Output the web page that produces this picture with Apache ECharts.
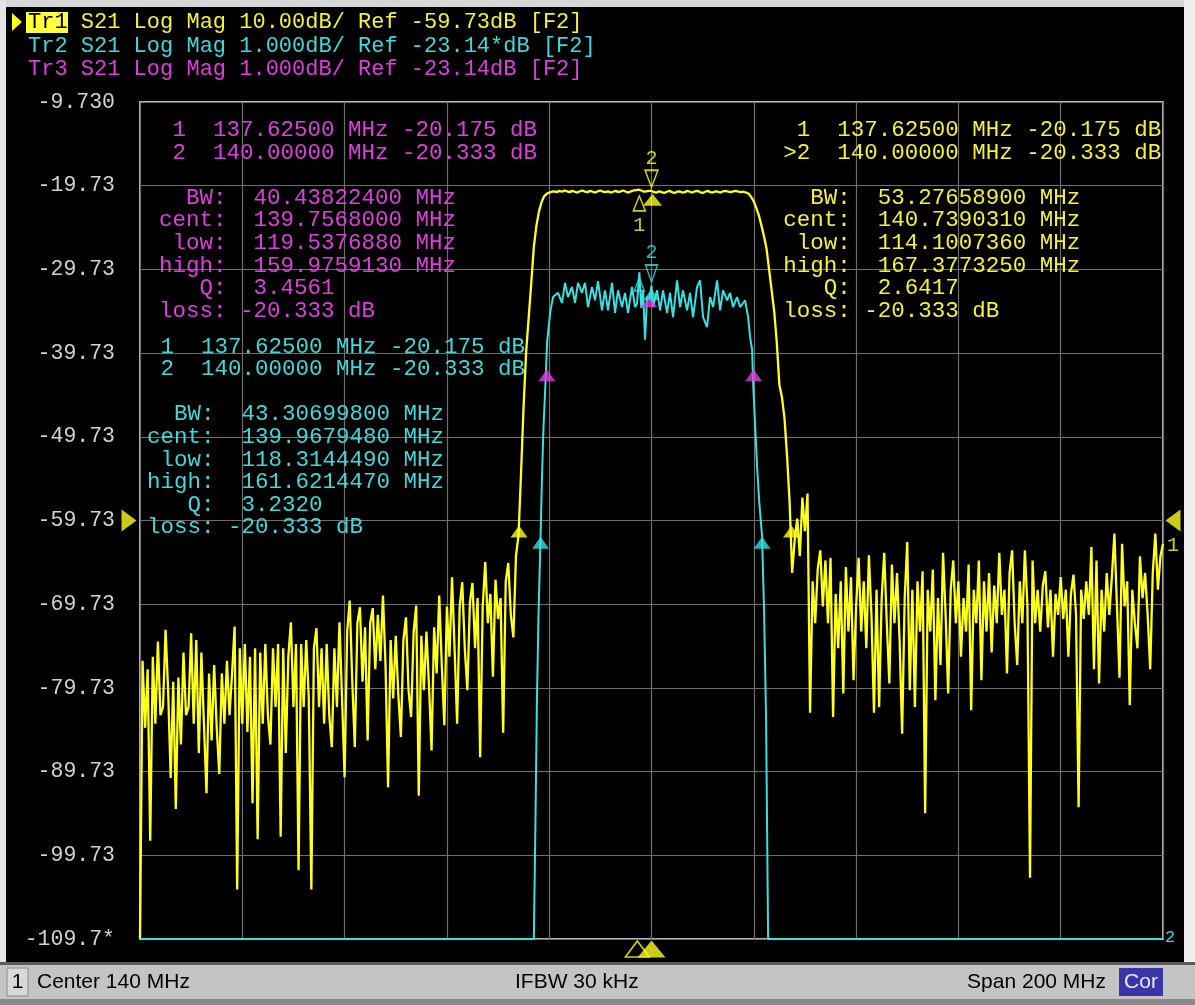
<!DOCTYPE html>
<html><head><meta charset="utf-8">
<script src="https://cdn.jsdelivr.net/npm/echarts@6/dist/echarts.min.js"></script>
<style>html,body{margin:0;padding:0;background:#000;}#c{width:1195px;height:1005px;}</style>
</head><body><div id="c"></div>
<script>
// ---------------- DATA ----------------
// Stimulus: Center 140 MHz, Span 200 MHz (40..240 MHz); Tr1 read every 0.5 MHz
const sweepStartMHz = 40;
const sweepStopMHz = 240;
const sweepStepMHz = 0.5;

// Tr1 axis (10 dB/div, Ref -59.73 dB at 5th division)
const yTickValues = [-109.73, -99.73, -89.73, -79.73, -69.73, -59.73, -49.73, -39.73, -29.73, -19.73, -9.73];
const yTickLabels = ['-109.7*', '-99.73', '-89.73', '-79.73', '-69.73', '-59.73', '-49.73', '-39.73', '-29.73', '-19.73', '-9.730'];
// Tr2/Tr3 axis (1 dB/div, Ref -23.14 dB at same position)
const tr2AxisMin = -28.14;
const tr2AxisMax = -18.14;

// Tr1 S21 (dB), 40.0 .. 113.0 MHz
const tr1LowerStopband = [
 -109.7,-76.5,-84.5,-77.5,-98.0,-76.0,-84.0,-74.2,-83.0,-82.0,
 -72.8,-80.0,-90.5,-79.0,-94.2,-78.5,-86.5,-75.5,-83.0,-82.0,
 -73.2,-84.0,-74.0,-87.5,-75.5,-84.0,-92.3,-78.0,-86.0,-77.0,
 -84.5,-90.0,-78.0,-84.0,-76.5,-83.0,-78.0,-72.4,-103.8,-75.0,
 -84.0,-74.5,-85.0,-76.0,-93.5,-75.0,-97.8,-75.5,-84.0,-74.5,
 -83.0,-86.5,-75.0,-82.0,-74.5,-97.5,-75.0,-87.5,-76.0,-71.9,
 -82.0,-74.5,-101.5,-74.5,-82.0,-74.0,-81.0,-103.8,-75.0,-72.6,
 -82.0,-75.0,-84.0,-74.5,-83.0,-86.8,-75.0,-82.0,-71.9,-81.0,
 -90.4,-73.0,-69.3,-79.0,-86.8,-72.0,-70.1,-79.0,-72.5,-86.0,
 -72.0,-70.2,-77.5,-71.0,-76.5,-68.7,-77.0,-91.6,-74.0,-81.0,
 -73.5,-80.5,-85.6,-74.0,-71.3,-80.0,-83.2,-73.0,-69.9,-92.6,
 -73.5,-80.0,-73.0,-79.5,-87.2,-72.5,-78.0,-68.7,-77.0,-84.2,
 -70.0,-76.0,-66.5,-75.0,-84.0,-70.0,-67.1,-75.0,-80.0,-69.5,
 -67.2,-75.0,-69.0,-88.0,-70.0,-64.7,-72.0,-68.5,-78.4,-66.8,
 -71.5,-69.0,-85.1,-67.0,-64.8,-71.0,-73.7
];
// Tr1 S21 (dB), 113.5 .. 167.5 MHz
const tr1Passband = [
 -64.0,-61.5,-54.0,-46.0,-39.5,-35.4,-31.3,-27.0,-24.5,-22.8,
 -21.7,-21.0,-20.7,-20.55,-20.45,-20.4,-20.5,-20.35,-20.45,-20.3,
 -20.4,-20.5,-20.35,-20.45,-20.55,-20.4,-20.3,-20.45,-20.5,-20.35,
 -20.45,-20.55,-20.4,-20.3,-20.45,-20.5,-20.4,-20.55,-20.45,-20.35,
 -20.5,-20.4,-20.3,-20.45,-20.55,-20.4,-20.3,-20.25,-20.2,-20.3,
 -20.45,-20.4,-20.35,-20.33,-20.5,-20.55,-20.4,-20.5,-20.6,-20.45,
 -20.35,-20.5,-20.6,-20.45,-20.4,-20.55,-20.5,-20.35,-20.45,-20.55,
 -20.4,-20.35,-20.5,-20.6,-20.45,-20.35,-20.5,-20.55,-20.4,-20.45,
 -20.55,-20.4,-20.35,-20.45,-20.5,-20.4,-20.35,-20.45,-20.5,-20.45,
 -20.55,-20.7,-21.1,-21.6,-22.4,-23.3,-24.5,-25.8,-27.3,-29.8,
 -32.3,-34.8,-38.5,-43.5,-45.0,-47.5,-52.0,-57.5,-66.0
];
// Tr1 S21 (dB), 168.0 .. 240.0 MHz
const tr1UpperStopband = [
 -62.0,-59.5,-64.0,-57.0,-61.0,-56.5,-82.7,-67.0,-72.0,-65.5,
 -63.3,-70.0,-64.5,-72.0,-64.2,-83.2,-68.5,-75.0,-67.0,-80.4,
 -65.3,-73.0,-66.5,-78.8,-70.0,-64.2,-73.0,-67.0,-75.0,-63.9,
 -71.0,-82.7,-68.0,-82.0,-69.0,-63.6,-72.0,-79.2,-65.0,-72.0,
 -66.0,-74.0,-85.2,-69.0,-62.3,-80.0,-68.0,-82.0,-67.0,-73.0,
 -65.8,-94.7,-68.0,-73.0,-65.6,-81.2,-69.0,-77.0,-63.6,-71.0,
 -80.4,-68.0,-64.5,-72.0,-67.0,-76.0,-69.0,-73.0,-65.0,-82.4,
 -68.0,-72.0,-64.5,-78.8,-67.0,-73.0,-66.0,-75.5,-67.5,-72.0,
 -63.6,-71.0,-68.0,-78.0,-66.0,-63.3,-72.0,-77.0,-67.0,-72.0,
 -63.3,-70.0,-102.4,-64.5,-72.0,-68.0,-73.0,-67.5,-65.8,-72.5,
 -68.0,-76.0,-68.5,-71.0,-66.5,-71.5,-68.0,-76.0,-68.5,-66.2,
 -71.0,-94.0,-68.0,-71.5,-67.0,-71.0,-62.9,-77.5,-64.5,-79.2,
 -68.0,-73.0,-66.0,-71.0,-66.5,-61.3,-70.0,-78.5,-62.5,-70.0,
 -67.0,-81.8,-68.0,-72.0,-75.0,-64.0,-69.0,-66.0,-71.0,-77.5,
 -66.0,-61.3,-68.0,-64.0,-62.5
];

// Tr2 S21 (dB, 1 dB/div scale; values shown at the screen floor are clamped to -28.14)
const tr2FreqMHz = [
 40,117.0,117.3,117.6,117.9,118.31,118.6,118.9,119.2,119.6,
 120.2,120.75,121.72,122.5,123.09,123.67,124.46,125.04,125.63,126.41,
 127.0,127.59,128.37,128.96,129.54,130.32,130.91,131.5,132.28,132.87,
 133.45,134.24,134.82,135.41,136.19,136.78,137.17,137.625,138.0,138.35,
 138.74,139.13,139.6,140.0,140.3,141.08,141.67,142.26,143.04,143.62,
 144.21,145.0,145.58,146.16,146.95,147.54,148.12,148.91,149.49,150.08,
 150.86,151.45,152.04,152.82,153.41,153.99,154.78,155.36,155.94,156.73,
 157.32,158.3,158.89,159.28,159.67,159.87,160.26,160.65,161.04,161.62,
 162.0,162.4,162.8,240
];
const tr2Db = [
 -28.14,-28.14,-26.8,-25.3,-24.3,-23.33,-22.6,-22.0,-21.6,-21.0,
 -20.65,-20.47,-20.42,-20.54,-20.30,-20.47,-20.35,-20.54,-20.30,-20.42,
 -20.30,-20.59,-20.35,-20.51,-20.28,-20.63,-20.39,-20.63,-20.30,-20.66,
 -20.39,-20.59,-20.42,-20.66,-20.35,-20.59,-20.55,-20.175,-20.6,-20.39,
 -20.98,-20.47,-20.5,-20.333,-20.59,-20.39,-20.63,-20.39,-20.66,-20.42,
 -20.71,-20.27,-20.59,-20.39,-20.63,-20.42,-20.71,-20.35,-20.27,-20.71,
 -20.83,-20.47,-20.59,-20.27,-20.63,-20.39,-20.51,-20.42,-20.59,-20.47,
 -20.59,-20.51,-20.71,-20.95,-21.10,-21.50,-22.0,-22.5,-22.9,-23.33,
 -24.2,-25.5,-28.14,-28.14
];

// Markers
const markerFreqMHz = [137.625, 140.0];
const tr1MarkerDb = [-20.175, -20.333];
const tr2MarkerDb = [-20.175, -20.333];
const tr1BwEdgesMHz = [114.100736, 167.377325];
const tr1BwLevelDb = -60.333;
const tr2BwEdgesMHz = [118.314449, 161.621447];
const tr2BwLevelDb = -23.333;
const tr3BwEdgesMHz = [119.537688, 159.975913];
const tr3BwLevelDb = -21.333;
const tr1RefLevelDb = -59.73;

// ---------------- BUILD ----------------
const tr1Values = tr1LowerStopband.concat(tr1Passband, tr1UpperStopband);
const tr1Data = tr1Values.map((v, i) => [sweepStartMHz + i * sweepStepMHz, v]);
const tr2Data = tr2FreqMHz.map((f, i) => [f, tr2Db[i]]);

const YEL = '#ffff1e', YEL_T = '#f4f03c';
const CYA = '#38e0e0', CYA_T = '#40d8d8';
const MAG = '#e03ce0', MAG_T = '#dc40dc';
const MONO = '"Liberation Mono", "DejaVu Sans Mono", monospace';

function mk(cfg) {
  return {
    type: 'scatter', silent: true, animation: false, clip: false, z: cfg.z || 6,
    xAxisIndex: 0, yAxisIndex: cfg.axis || 0,
    symbol: 'triangle', symbolSize: cfg.size, symbolRotate: cfg.rotate || 0,
    symbolOffset: cfg.offset || [0, 0],
    itemStyle: cfg.filled ? { color: cfg.color, borderWidth: 0 }
                          : { color: 'rgba(0,0,0,0)', borderColor: cfg.color, borderWidth: 1.6 },
    label: cfg.label ? { show: true, formatter: cfg.label, position: cfg.labelPos, distance: cfg.labelDist || 2,
                         color: cfg.color, fontFamily: MONO, fontSize: 20 } : { show: false },
    emphasis: { disabled: true },
    data: cfg.data
  };
}

function txt(x, y, text, color, font, extra) {
  return Object.assign({ type: 'text', x: x, y: y, silent: true, z: 3,
    style: Object.assign({ text: text, fill: color, font: font, textVerticalAlign: 'middle' }, extra || {}) });
}

const hdrFont = '22px ' + MONO;
const tblFont = '22.5px ' + MONO;
const barFont = '21px "Liberation Sans"';
const tblLH = 22.6;

const magBlock = ' 1  137.62500 MHz -20.175 dB\n 2  140.00000 MHz -20.333 dB\n\n  BW:  40.43822400 MHz\ncent:  139.7568000 MHz\n low:  119.5376880 MHz\nhigh:  159.9759130 MHz\n   Q:  3.4561\nloss: -20.333 dB';
const cyaBlock = ' 1  137.62500 MHz -20.175 dB\n 2  140.00000 MHz -20.333 dB\n\n  BW:  43.30699800 MHz\ncent:  139.9679480 MHz\n low:  118.3144490 MHz\nhigh:  161.6214470 MHz\n   Q:  3.2320\nloss: -20.333 dB';
const yelBlock = ' 1  137.62500 MHz -20.175 dB\n>2  140.00000 MHz -20.333 dB\n\n  BW:  53.27658900 MHz\ncent:  140.7390310 MHz\n low:  114.1007360 MHz\nhigh:  167.3773250 MHz\n   Q:  2.6417\nloss: -20.333 dB';

const chart = echarts.init(document.getElementById('c'), null, { renderer: 'canvas' });
chart.setOption({
  backgroundColor: '#000',
  animation: false,
  grid: { left: 140, top: 102, width: 1023, height: 837, show: true, borderColor: '#b4b4b4', borderWidth: 2,
          backgroundColor: 'transparent', containLabel: false, outerBoundsMode: 'none' },
  xAxis: {
    type: 'value', min: sweepStartMHz, max: sweepStopMHz, interval: 20,
    axisLine: { show: false }, axisTick: { show: false }, axisLabel: { show: false },
    splitLine: { show: true, lineStyle: { color: '#6e6e6e', width: 1.2 } }
  },
  yAxis: [{
    type: 'value', min: yTickValues[0], max: yTickValues[yTickValues.length - 1], interval: 10,
    axisLine: { show: false }, axisTick: { show: false },
    axisLabel: {
      show: true, margin: 25, color: '#d2d2d2', fontFamily: MONO, fontSize: 21.5,
      formatter: function (v) {
        let best = 0;
        for (let i = 1; i < yTickValues.length; i++) if (Math.abs(yTickValues[i] - v) < Math.abs(yTickValues[best] - v)) best = i;
        return yTickLabels[best];
      }
    },
    splitLine: { show: true, lineStyle: { color: '#6e6e6e', width: 1.2 } }
  }, {
    type: 'value', min: tr2AxisMin, max: tr2AxisMax, show: false,
    splitLine: { show: false }
  }],
  series: [
    { type: 'line', name: 'Tr1', data: tr1Data, xAxisIndex: 0, yAxisIndex: 0, showSymbol: false, symbol: 'none',
      clip: false, silent: true, z: 4, lineStyle: { color: YEL, width: 2.3, join: 'bevel' }, animation: false },
    { type: 'line', name: 'Tr2', data: tr2Data, xAxisIndex: 0, yAxisIndex: 1, showSymbol: false, symbol: 'none',
      clip: false, silent: true, z: 5, lineStyle: { color: CYA, width: 2 }, animation: false },

    // Tr1 markers
    mk({ data: [[markerFreqMHz[1], tr1MarkerDb[1]]], color: YEL, size: [13, 17], rotate: 180, offset: [0, -12], label: '2', labelPos: 'top', labelDist: 1 }),
    mk({ data: [[markerFreqMHz[0], tr1MarkerDb[0]]], color: YEL, size: [12, 15], offset: [0, 14], label: '1', labelPos: 'bottom', labelDist: 4 }),
    mk({ data: [[markerFreqMHz[1], tr1MarkerDb[1]]], color: YEL, size: [19, 12], offset: [1, 9], filled: true, z: 7 }),
    // Tr2 markers
    mk({ axis: 1, data: [[markerFreqMHz[1], tr2MarkerDb[1]]], color: CYA, size: [12, 17], rotate: 180, offset: [0, -12], label: '2', labelPos: 'top', labelDist: 1 }),
    mk({ axis: 1, data: [[markerFreqMHz[0], tr2MarkerDb[0]]], color: CYA, size: [10, 13], offset: [0, 12] }),
    mk({ axis: 1, data: [[markerFreqMHz[1], tr2MarkerDb[1]]], color: CYA, size: [16, 11], offset: [0, 9], filled: true, z: 7 }),
    mk({ axis: 1, data: [[markerFreqMHz[1], tr2MarkerDb[1]]], color: MAG, size: [16, 9], offset: [-2, 17], filled: true, z: 7 }),
    // Bandwidth markers
    mk({ data: tr1BwEdgesMHz.map(f => [f, tr1BwLevelDb]), color: YEL, size: [17, 12], offset: [0, 6], filled: true, z: 7 }),
    mk({ axis: 1, data: tr2BwEdgesMHz.map(f => [f, tr2BwLevelDb]), color: CYA, size: [17, 12], offset: [0, 6], filled: true, z: 7 }),
    mk({ axis: 1, data: tr3BwEdgesMHz.map(f => [f, tr3BwLevelDb]), color: MAG, size: [17, 12], offset: [0, 6], filled: true, z: 7 }),
    // Stimulus markers under the x axis
    mk({ data: [[markerFreqMHz[0], yTickValues[0]]], color: YEL, size: [24, 16], offset: [-2, 10] }),
    mk({ data: [[markerFreqMHz[1], yTickValues[0]]], color: YEL, size: [28, 17], offset: [0, 10], filled: true, z: 7 }),
    // Reference level arrows
    mk({ data: [[sweepStartMHz, tr1RefLevelDb]], color: YEL, size: [22, 15], rotate: -90, offset: [-11, 0], filled: true }),
    mk({ data: [[sweepStopMHz, tr1RefLevelDb]], color: YEL, size: [22, 15], rotate: 90, offset: [10, 0], filled: true,
         label: '1', labelPos: 'bottom', labelDist: 4 })
  ],
  graphic: [
    // window frame
    { type: 'rect', silent: true, z: 1, shape: { x: 0, y: 0, width: 1195, height: 7 }, style: { fill: '#d6d6d6' } },
    { type: 'rect', silent: true, z: 1, shape: { x: 0, y: 0, width: 6, height: 962 }, style: { fill: '#e4e4e4' } },
    { type: 'rect', silent: true, z: 1, shape: { x: 1184, y: 0, width: 11, height: 962 }, style: { fill: '#eeeeee' } },
    // status bar
    { type: 'rect', silent: true, z: 1, shape: { x: 0, y: 962, width: 1195, height: 43 }, style: { fill: '#c4c4c4' } },
    { type: 'rect', silent: true, z: 1, shape: { x: 0, y: 962, width: 1195, height: 3 }, style: { fill: '#5a5a5a' } },
    { type: 'rect', silent: true, z: 1, shape: { x: 0, y: 999, width: 1195, height: 6 }, style: { fill: '#8a8a8a' } },
    { type: 'rect', silent: true, z: 2, shape: { x: 7, y: 968, width: 21, height: 28 }, style: { fill: '#d8d8d8', stroke: '#8a8a8a', lineWidth: 1 } },
    txt(17.5, 982, '1', '#000', barFont, { textAlign: 'center' }),
    txt(37, 982, 'Center 140 MHz', '#000', barFont),
    txt(515, 982, 'IFBW 30 kHz', '#000', barFont),
    txt(1106, 982, 'Span 200 MHz', '#000', barFont, { textAlign: 'right' }),
    { type: 'rect', silent: true, z: 2, shape: { x: 1119, y: 968, width: 44, height: 28 }, style: { fill: '#3a36a8' } },
    txt(1141, 982, 'Cor', '#e8e8ff', barFont, { textAlign: 'center' }),
    // header
    { type: 'polygon', silent: true, z: 3, shape: { points: [[12, 13], [22, 22], [12, 31]] }, style: { fill: YEL } },
    txt(28, 22, 'Tr1 S21 Log Mag 10.00dB/ Ref -59.73dB [F2]', YEL_T, hdrFont),
    { type: 'rect', silent: true, z: 4, shape: { x: 26, y: 12, width: 42, height: 21 }, style: { fill: '#ffff3c' } },
    Object.assign(txt(28, 22, 'Tr1', '#000', hdrFont), { z: 5 }),
    txt(28, 46, 'Tr2 S21 Log Mag 1.000dB/ Ref -23.14*dB [F2]', CYA_T, hdrFont),
    txt(28, 69, 'Tr3 S21 Log Mag 1.000dB/ Ref -23.14dB [F2]', MAG_T, hdrFont),
    // marker tables
    txt(159, 130 - tblLH / 2, magBlock, MAG_T, tblFont, { textVerticalAlign: 'top', lineHeight: tblLH }),
    txt(147, 346.7 - tblLH / 2, cyaBlock, CYA_T, tblFont, { textVerticalAlign: 'top', lineHeight: tblLH }),
    txt(783.3, 130 - tblLH / 2, yelBlock, YEL_T, tblFont, { textVerticalAlign: 'top', lineHeight: tblLH }),
    // trace 2 index at the right bottom
    txt(1165, 937, '2', CYA_T, '17px ' + MONO)
  ]
});
</script>
</body></html>
